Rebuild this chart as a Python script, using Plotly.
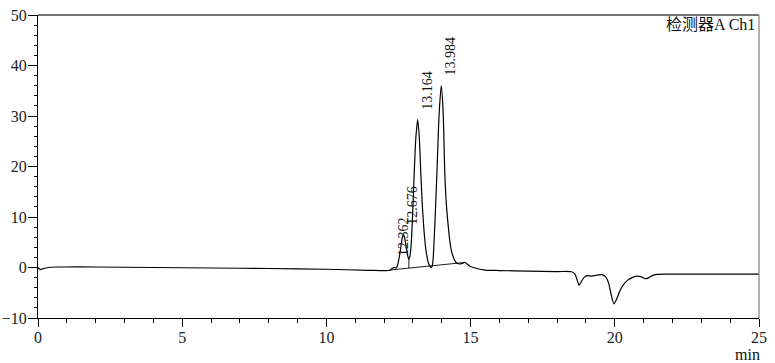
import plotly.graph_objects as go

# ---- chromatogram trace (time in min, signal) ----
time_min = [0.00, 0.08, 0.20, 0.40, 0.80, 2.0, 4.0, 6.0, 8.0, 10.0, 11.5, 12.10,
            12.20, 12.28, 12.36, 12.42, 12.47, 12.53, 12.58, 12.63, 12.676, 12.72,
            12.77, 12.82, 12.86, 12.90, 12.94, 12.974, 13.01, 13.043, 13.10, 13.164,
            13.22, 13.276, 13.32, 13.369, 13.42, 13.473, 13.55, 13.646, 13.69,
            13.716, 13.76, 13.83, 13.91, 13.984, 14.05, 14.107, 14.16, 14.22, 14.28,
            14.34, 14.42, 14.51, 14.65, 14.80, 14.88, 14.97, 15.15, 15.5, 16.0, 17.0,
            18.0, 18.50, 18.62, 18.70, 18.76, 18.84, 18.94, 19.05, 19.20, 19.40,
            19.55, 19.68, 19.78, 19.88, 19.97, 20.06, 20.17, 20.30, 20.45, 20.60,
            20.75, 20.90, 21.05, 21.15, 21.30, 21.45, 22.0, 23.5, 25.0]
signal = [0.0, -0.4, -0.2, 0.05, 0.1, 0.1, 0.0, -0.1, -0.2, -0.35, -0.55, -0.6,
          -0.55, -0.2, 0.05, -0.1, 0.5, 2.2, 4.0, 5.9, 6.5, 5.6,
          3.9, 2.3, 1.6, 2.3, 4.6, 8.5, 13.5, 18.4, 25.5, 29.3,
          25.8, 18.4, 13.0, 8.5, 5.0, 2.6, 0.7, 0.0, 1.0,
          3.2, 8.5, 18.4, 30.5, 36.0, 30.5, 18.4, 12.5, 8.5, 5.2,
          3.2, 1.8, 0.9, 0.7, 1.0, 0.7, 0.26, -0.1, -0.5, -0.6, -0.7,
          -0.8, -0.85, -1.3, -2.6, -3.5, -2.8, -1.9, -1.6, -1.7, -1.5,
          -1.4, -1.8, -3.0, -5.5, -7.2, -6.3, -4.7, -3.4, -2.5, -2.0,
          -1.7, -1.8, -2.2, -2.1, -1.6, -1.35, -1.3, -1.3, -1.3]

# integration baseline and drop line
base_t = [12.20, 14.80, None, 12.86, 12.86]
base_v = [-0.5, 1.0, None, 1.6, -0.1]

# peak labels
peak_t = [12.362, 12.676, 13.164, 13.984]
peak_v = [0.3, 6.5, 29.3, 36.0]
peak_labels = ["12.362", "12.676", "13.164", "13.984"]

x_ticks = [0, 5, 10, 15, 20, 25]
y_ticks = [-10, 0, 10, 20, 30, 40, 50]

FONT = "Liberation Serif, Noto Sans CJK SC, serif"

fig = go.Figure()
fig.add_trace(go.Scatter(x=time_min, y=signal, mode="lines",
                         line=dict(color="black", width=1.2, shape="spline", smoothing=0.7),
                         hoverinfo="skip", showlegend=False))
fig.add_trace(go.Scatter(x=base_t, y=base_v, mode="lines",
                         line=dict(color="black", width=0.9),
                         hoverinfo="skip", showlegend=False))

ann = []
for t, v, s in zip(peak_t, peak_v, peak_labels):
    ann.append(dict(x=t, y=v, xref="x", yref="y", text=s, showarrow=False,
                    textangle=-90, xanchor="center", yanchor="bottom",
                    xshift=9, yshift=8, font=dict(family=FONT, size=14, color="#111")))
ann.append(dict(x=25, y=-0.119, xref="x", yref="paper", text="min", showarrow=False,
                xanchor="center", yanchor="middle", xshift=-12,
                font=dict(family=FONT, size=16, color="#111")))
ann.append(dict(x=0.997, y=0.967, xref="paper", yref="paper", text="检测器A Ch1",
                showarrow=False, xanchor="right", yanchor="middle",
                font=dict(family=FONT, size=16, color="#111")))

fig.update_layout(
    width=775, height=363,
    margin=dict(l=38, r=16, t=15, b=45),
    paper_bgcolor="white", plot_bgcolor="white",
    annotations=ann,
    shapes=[
        dict(type="line", xref="paper", yref="paper", x0=0, x1=1, y0=1, y1=1,
             line=dict(color="#444", width=1.3)),
        dict(type="line", xref="paper", yref="paper", x0=1, x1=1, y0=0, y1=1,
             line=dict(color="#888", width=1.3)),
    ],
)
fig.update_xaxes(range=[0, 25], tickvals=x_ticks, ticks="outside", ticklen=8,
                 tickcolor="black", tickwidth=1, showline=True, linecolor="black",
                 linewidth=1.3, showgrid=False, zeroline=False, automargin=False,
                 ticklabelstandoff=-3,
                 minor=dict(dtick=1, ticks="outside", ticklen=4, tickcolor="black", showgrid=False),
                 tickfont=dict(family=FONT, size=16, color="#222"))
fig.update_yaxes(range=[-10, 50], tickvals=y_ticks, ticks="outside", ticklen=9,
                 tickcolor="black", tickwidth=1, showline=True, linecolor="black",
                 linewidth=1.3, showgrid=False, zeroline=False, automargin=False,
                 ticklabelstandoff=-2,
                 minor=dict(dtick=2, ticks="outside", ticklen=3, tickcolor="black", showgrid=False),
                 tickfont=dict(family=FONT, size=16, color="#222"))

fig.write_html("out.html")
